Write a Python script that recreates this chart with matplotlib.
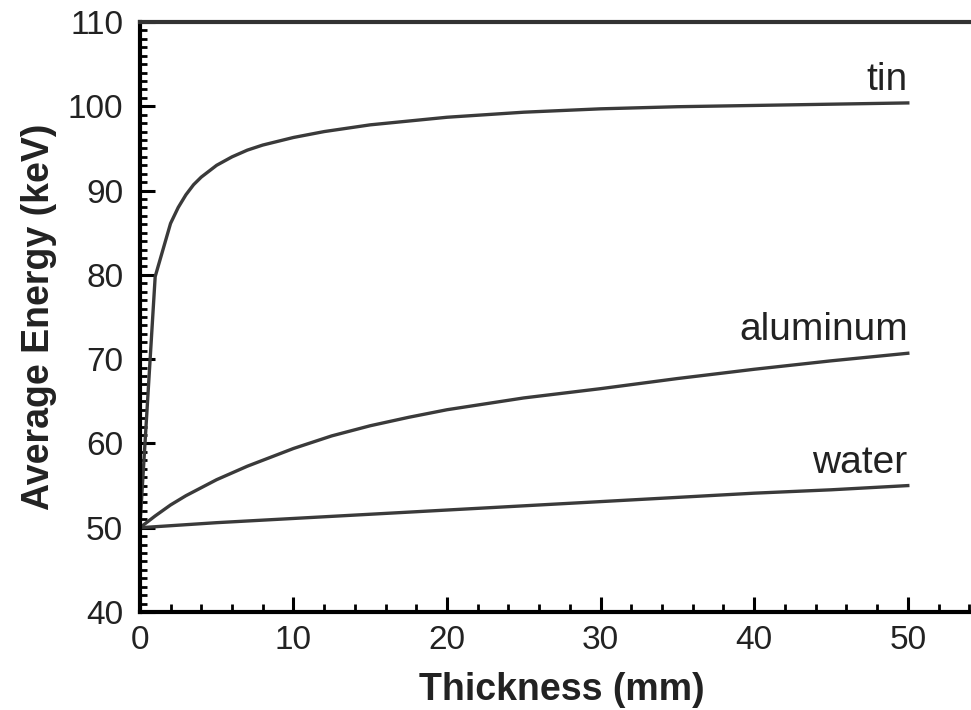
import matplotlib
matplotlib.use("Agg")
import matplotlib.pyplot as plt
from matplotlib.ticker import MultipleLocator

plt.rcParams['font.family'] = ['Liberation Sans', 'DejaVu Sans']

# Data
tin_x = [0, 1, 2, 2.5, 3, 3.5, 4, 5, 6, 7, 8, 10, 12, 15, 20, 25, 30, 35, 40, 45, 50]
tin_y = [50, 79.8, 86.1, 88.0, 89.5, 90.7, 91.6, 93.0, 94.0, 94.8, 95.4, 96.3, 97.0, 97.8, 98.7, 99.3, 99.7, 99.95, 100.1, 100.25, 100.4]

al_x = [0, 1, 2, 3, 5, 7, 10, 12.5, 15, 17.5, 20, 22.5, 25, 30, 35, 40, 45, 50]
al_y = [50, 51.4, 52.7, 53.8, 55.7, 57.3, 59.4, 60.9, 62.1, 63.1, 64.0, 64.7, 65.4, 66.5, 67.7, 68.8, 69.8, 70.7]

water_x = [0, 5, 10, 15, 20, 25, 30, 35, 40, 45, 50]
water_y = [50, 50.6, 51.1, 51.6, 52.1, 52.6, 53.1, 53.6, 54.1, 54.5, 55.0]

labels = ["tin", "aluminum", "water"]
label_y = [101.9, 72.3, 56.5]

xticks = [0, 10, 20, 30, 40, 50]
yticks = [40, 50, 60, 70, 80, 90, 100, 110]

fig = plt.figure(figsize=(9.71, 7.10), dpi=100)
ax = fig.add_axes([0.144, 0.138, 0.870, 0.831])

lc = '#3a3a3a'
ax.plot(tin_x, tin_y, color=lc, lw=2.4)
ax.plot(al_x, al_y, color=lc, lw=2.4)
ax.plot(water_x, water_y, color=lc, lw=2.4)

for lab, yy in zip(labels, label_y):
    ax.text(50, yy, lab, ha='right', va='baseline', fontsize=28, color='#222222')

ax.set_xlim(0, 55)
ax.set_ylim(40, 110)
ax.set_xticks(xticks)
ax.set_yticks(yticks)
ax.xaxis.set_minor_locator(MultipleLocator(2))
ax.yaxis.set_minor_locator(MultipleLocator(1))

ax.tick_params(axis='both', which='major', direction='in', length=11, width=2.2,
               labelsize=24, colors='black', labelcolor='#222222')
ax.tick_params(axis='x', which='major', pad=9)
ax.tick_params(axis='y', which='major', pad=12)
ax.tick_params(axis='x', which='minor', direction='in', length=6, width=2)
ax.tick_params(axis='y', which='minor', direction='in', length=5, width=2)
ax.tick_params(top=False, right=False, which='both')

for s in ['left', 'bottom']:
    ax.spines[s].set_linewidth(3)
    ax.spines[s].set_color('black')
ax.spines['top'].set_linewidth(3)
ax.spines['top'].set_color('#333333')
ax.spines['right'].set_visible(False)

ax.set_xlabel('Thickness (mm)', fontsize=27, fontweight='bold', color='#222222', labelpad=12)
ax.set_ylabel('Average Energy (keV)', fontsize=27, fontweight='bold', color='#222222', labelpad=8)

fig.savefig('out.png', dpi=100)
